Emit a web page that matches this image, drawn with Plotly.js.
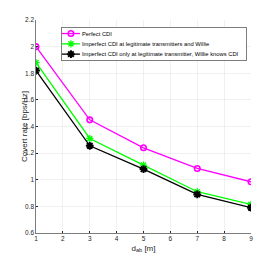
<!DOCTYPE html>
<html><head><meta charset="utf-8">
<script src="https://cdn.plot.ly/plotly-3.0.1.min.js"></script>
<style>html,body{margin:0;padding:0;background:#fff}#c{width:277px;height:263px}</style>
</head><body><div id="c"></div>
<script>
const dab = [1, 3, 5, 7, 9];
const perfect = [2.0, 1.45, 1.24, 1.085, 0.985];
const imperfectBoth = [1.88, 1.31, 1.11, 0.91, 0.815];
const imperfectLegit = [1.82, 1.255, 1.08, 0.89, 0.79];
const names = ["Perfect CDI", "Imperfect CDI at legitimate transmitters and Willie", "Imperfect CDI only at legitimate transmitter, Willie knows CDI"];
const xTicks = [1,2,3,4,5,6,7,8,9];
const yTicks = [0.6,0.8,1,1.2,1.4,1.6,1.8,2,2.2];

const traces = [
 {x: dab, y: perfect, name: names[0], mode: "lines+markers",
  line: {color: "#ff00ff", width: 1.3}, marker: {symbol: "circle-open", size: 5.5, color: "#ff00ff", line: {width: 1.6}}},
 {x: dab, y: imperfectBoth, name: names[1], mode: "lines+markers",
  line: {color: "#00ff00", width: 1.3}, marker: {symbol: "asterisk-open", size: 6, color: "#00ff00", line: {width: 1.3, color: "#00ff00"}}},
 {x: dab, y: imperfectLegit, name: names[2], mode: "lines+markers",
  line: {color: "#000000", width: 1.3}, marker: {symbol: "asterisk-open", size: 6.5, color: "#000000", line: {width: 2, color: "#000000"}}}
];
const layout = {
 width: 277, height: 263,
 margin: {l: 36, r: 26, t: 20, b: 30},
 paper_bgcolor: "#fff", plot_bgcolor: "#fff",
 font: {family: "Liberation Sans, Arial, sans-serif", size: 6.5, color: "#262626"},
 xaxis: {range: [1, 9], tickvals: xTicks, ticktext: xTicks.map(String), showgrid: true, gridcolor: "#e6e6e6", gridwidth: 0.6,
   zeroline: false, showline: true, linecolor: "#262626", linewidth: 0.6, ticks: "inside", ticklen: 2, tickcolor: "#262626",
   tickfont: {size: 6.5}, title: {text: "d<sub>ab</sub> [m]", font: {size: 8}, standoff: 3}},
 yaxis: {range: [0.6, 2.2], tickvals: yTicks, ticktext: yTicks.map(String), showgrid: true, gridcolor: "#e6e6e6", gridwidth: 0.6,
   zeroline: false, showline: true, linecolor: "#262626", linewidth: 0.6, ticks: "inside", ticklen: 2, tickcolor: "#262626",
   tickfont: {size: 6.5}, title: {text: "Covert rate [bps/Hz]", font: {size: 8}, standoff: 0}},
 legend: {x: 0.116, y: 0.967, xanchor: "left", yanchor: "top", bgcolor: "#fff", bordercolor: "#262626", borderwidth: 0.6,
   font: {size: 5, color: "#000"}, itemwidth: 30, tracegroupgap: 0},
 showlegend: true
};
Plotly.newPlot("c", traces, layout, {displayModeBar: false, staticPlot: true}).then(function(gd){
  const yt = gd.querySelector("g.g-ytitle");
  if (yt) yt.setAttribute("transform", "translate(4,0)");
  const leg = gd.querySelector("g.legend");
  if (!leg) return;
  leg.querySelectorAll("[clip-path]").forEach(function(n){ n.removeAttribute("clip-path"); });
  const items = leg.querySelectorAll("g.traces");
  items.forEach(function(it, i){
    it.setAttribute("transform", "translate(0," + (6.5 + i * 10.3) + ")");
    const t = it.querySelector("text.legendtext");
    if (t) { t.setAttribute("x", 21); t.style.fontSize = "5.8px"; t.setAttribute("y", 2); }
    it.querySelectorAll("path.js-line").forEach(function(p){ p.setAttribute("d", "M1,0h18"); });
    it.querySelectorAll("g.legendpoints path").forEach(function(p){ p.setAttribute("transform", "translate(10,0)"); });
  });
  const bg = leg.querySelector("rect.bg");
  if (bg) { bg.setAttribute("height", 33); bg.setAttribute("width", 185); }
});
</script></body></html>
